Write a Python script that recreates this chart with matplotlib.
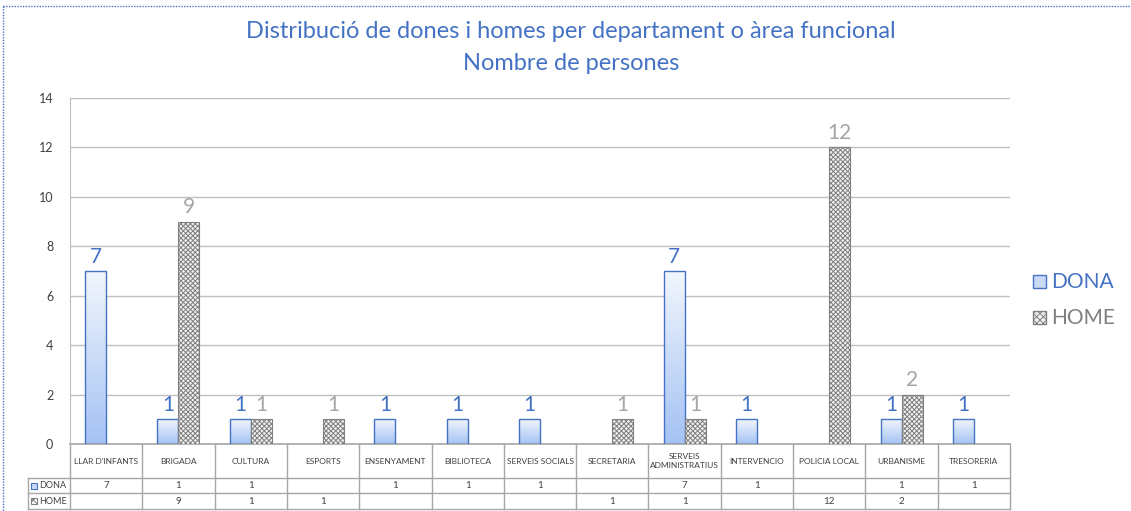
import numpy as np
import matplotlib
matplotlib.use("Agg")
import matplotlib.pyplot as plt
from matplotlib.patches import Rectangle
from matplotlib.lines import Line2D
import matplotlib.transforms as mtransforms
from matplotlib.colors import LinearSegmentedColormap

categories = ["LLAR D'INFANTS", "BRIGADA", "CULTURA", "ESPORTS", "ENSENYAMENT",
              "BIBLIOTECA", "SERVEIS SOCIALS", "SECRETARIA", "SERVEIS\nADMINISTRATIUS",
              "INTERVENCIO", "POLICIA LOCAL", "URBANISME", "TRESORERIA"]
dona = [7, 1, 1, None, 1, 1, 1, None, 7, 1, None, 1, 1]
home = [None, 9, 1, 1, None, None, None, 1, 1, None, 12, 2, None]
yticks = [0, 2, 4, 6, 8, 10, 12, 14]
series_names = ["DONA", "HOME"]

plt.rcParams['font.family'] = ['Lato', 'DejaVu Sans']
plt.rcParams['hatch.linewidth'] = 0.7

W, H = 1131, 511
fig = plt.figure(figsize=(W / 100, H / 100), dpi=100)
fig.patch.set_facecolor('white')

L, R, B, T = 70, 1010, 444, 98
ax = fig.add_axes([L / W, 1 - B / H, (R - L) / W, (B - T) / H])

blue = '#4472c4'
gray_txt = '#a5a5a5'
x = np.arange(len(categories))
bw = 0.29
LW = 'normal'

dv = np.array([v if v is not None else 0 for v in dona], dtype=float)
hv = np.array([v if v is not None else 0 for v in home], dtype=float)

bars_d = ax.bar(x - bw / 2, dv, width=bw, facecolor='none', edgecolor=blue, linewidth=1.0, zorder=3)
bars_h = ax.bar(x + bw / 2, hv, width=bw, facecolor='#f0f0f0', edgecolor='#808080',
                hatch='xxxxxxx', linewidth=0.8, zorder=3)

grad = np.linspace(0, 1, 256).reshape(-1, 1)
cmap = LinearSegmentedColormap.from_list('g', ['#a4c2f4', '#f2f6fd'])
for b in bars_d:
    h = b.get_height()
    if h <= 0:
        b.set_visible(False)
        continue
    xx, w = b.get_x(), b.get_width()
    im = ax.imshow(grad, cmap=cmap, aspect='auto', origin='lower',
                   extent=[xx, xx + w, 0, h], zorder=2.5)
    im.set_clip_path(b)
for b in bars_h:
    if b.get_height() <= 0:
        b.set_visible(False)

for xi, v in zip(x, dona):
    if v is not None:
        ax.annotate(str(v), (xi - bw / 2, v), xytext=(0, 3), textcoords='offset points',
                    ha='center', va='bottom', fontsize=15, color=blue, fontweight=LW)
for xi, v in zip(x, home):
    if v is not None:
        ax.annotate(str(v), (xi + bw / 2, v), xytext=(0, 3), textcoords='offset points',
                    ha='center', va='bottom', fontsize=15, color=gray_txt, fontweight=LW)

ax.set_xlim(-0.5, len(categories) - 0.5)
ax.set_ylim(0, 14)
ax.set_yticks(yticks)
ax.tick_params(axis='y', length=0, labelsize=9, labelcolor='#404040', pad=12)
ax.set_xticks([])
ax.grid(axis='y', color='#bfbfbf', linewidth=1.0, zorder=0)
ax.set_axisbelow(True)
for s in ['top', 'right']:
    ax.spines[s].set_visible(False)
ax.spines['left'].set_color('#bfbfbf')
ax.spines['bottom'].set_color('#a6a6a6')
ax.spines['bottom'].set_linewidth(1.2)

# data table
tr = mtransforms.blended_transform_factory(ax.transData, ax.transAxes)
ph = B - T
y_hdr = -(478 - B) / ph
y_d = -(493 - B) / ph
y_h = -(509 - B) / ph
lc = '#a6a6a6'
n = len(categories)
for i in range(n + 1):
    ax.add_line(Line2D([i - 0.5, i - 0.5], [0, y_h], transform=tr, color=lc, lw=1.0, clip_on=False))
for yy in [y_hdr, y_d, y_h]:
    ax.add_line(Line2D([-0.5, n - 0.5], [yy, yy], transform=tr, color=lc, lw=1.0, clip_on=False))
lx = 28 / W
ax_left = L / W
def fy(py):
    return 1 - py / H
for py in [478, 493, 509]:
    fig.add_artist(Line2D([lx, ax_left], [fy(py), fy(py)], color=lc, lw=1.0))
fig.add_artist(Line2D([lx, lx], [fy(478), fy(509)], color=lc, lw=1.0))

for i, c in enumerate(categories):
    ax.text(i, (0 + y_hdr) / 2, c, transform=tr, ha='center', va='center', fontsize=6,
            color='#404040', linespacing=1.3)
    if dona[i] is not None:
        ax.text(i, (y_hdr + y_d) / 2, str(dona[i]), transform=tr, ha='center', va='center',
                fontsize=7, color='#404040')
    if home[i] is not None:
        ax.text(i, (y_d + y_h) / 2, str(home[i]), transform=tr, ha='center', va='center',
                fontsize=7, color='#404040')

for name, py, style in [(series_names[0], 485.5, 'd'), (series_names[1], 501, 'h')]:
    kx, ky = 31 / W, fy(py) - 3 / H
    if style == 'd':
        fig.add_artist(Rectangle((kx, ky), 6 / W, 6 / H, facecolor='#c9daf8', edgecolor=blue, lw=0.8))
    else:
        fig.add_artist(Rectangle((kx, ky), 6 / W, 6 / H, facecolor='white', edgecolor='#7f7f7f',
                                 hatch='xxx', lw=0.8))
    fig.text(39 / W, fy(py), name, ha='left', va='center', fontsize=6.5, color='#404040')

for name, py, style, col in [(series_names[0], 282, 'd', blue), (series_names[1], 318, 'h', '#7f7f7f')]:
    s = 13
    kx, ky = 1033 / W, fy(py) - (s / 2) / H
    if style == 'd':
        fig.add_artist(Rectangle((kx, ky), s / W, s / H, facecolor='#c9daf8', edgecolor=blue, lw=1.0))
    else:
        fig.add_artist(Rectangle((kx, ky), s / W, s / H, facecolor='#f0f0f0', edgecolor='#808080',
                                 hatch='xxxxx', lw=1.0))
    fig.text(1051 / W, fy(py), name, ha='left', va='center', fontsize=15, color=col, fontweight=LW)

fig.text(571 / W, fy(32), "Distribució de dones i homes per departament o àrea funcional",
         ha='center', va='center', fontsize=17, color=blue, fontweight=LW)
fig.text(571 / W, fy(63), "Nombre de persones", ha='center', va='center', fontsize=17,
         color=blue, fontweight=LW)

fig.add_artist(Line2D([3 / W, 3 / W], [fy(6), 0], color='#4472c4', lw=1.0, linestyle=(0, (1, 1))))
fig.add_artist(Line2D([3 / W, 1], [fy(6), fy(6)], color='#4472c4', lw=1.0, linestyle=(0, (1, 1))))

fig.savefig('out.png', dpi=100, facecolor='white')
